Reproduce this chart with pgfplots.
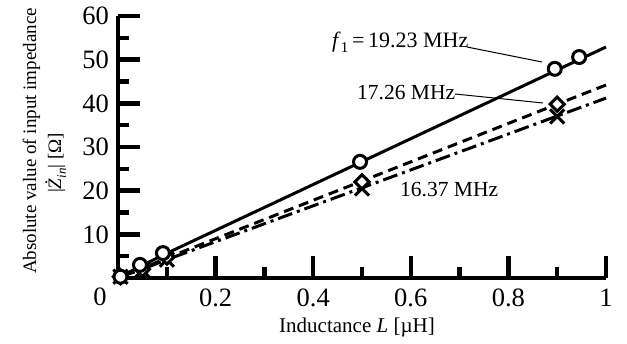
\documentclass[border=0pt]{standalone}
\usepackage{fontspec}
\setmainfont{Liberation Serif}
\usepackage{pgfplots}
\pgfplotsset{compat=1.18}
\begin{document}
\begin{tikzpicture}[x=1pt,y=1pt]
\path[use as bounding box] (0,0) rectangle (627,344);
\begin{axis}[at={(118pt,66pt)}, anchor=south west, scale only axis,
  width=488pt, height=262pt, xmin=0, xmax=1, ymin=0, ymax=60,
  enlargelimits=false, clip=false,
  axis lines=left, axis line style={-, line width=4.5pt},
  xtick={0.2,0.4,0.6,0.8,1}, xticklabels={0.2,0.4,0.6,0.8,1},
  minor xtick={0.1,0.3,0.5,0.7,0.9},
  ytick={10,20,30,40,50,60}, yticklabels={10,20,30,40,50,60},
  minor ytick={5,15,25,35,45,55},
  tick align=inside, major tick length=22pt, minor tick length=11pt,
  every tick/.style={line width=4.5pt, black},
  xticklabel style={font=\fontsize{26.5}{26}\selectfont, inner sep=0pt, anchor=north, yshift=-11pt},
  yticklabel style={font=\fontsize{26.5}{26}\selectfont, inner sep=0pt, anchor=east, xshift=-9pt},
]
% lines
\addplot[black, line width=3pt] coordinates {(0.005,0.3) (0.05,2.9) (0.095,5.4) (1,52.9)};
\addplot[black, line width=3pt, dash pattern=on 10pt off 6pt] coordinates {(0.005,0.3) (0.05,2.2) (0.1,4.6) (1,44.2)};
\addplot[black, line width=3pt, dash pattern=on 15pt off 5pt on 3pt off 5pt] coordinates {(0.005,0.3) (0.05,2.0) (0.1,4.2) (1,41.2)};
% markers
\addplot[only marks, mark=x, mark size=10pt, line width=3pt, black] coordinates {(0.005,0.3) (0.05,1.8) (0.1,4.2) (0.5,20.5) (0.9,37.0)};
\addplot[only marks, mark=square*, mark options={rotate=45, fill=white}, mark size=5pt, line width=3pt, black] coordinates {(0.005,0.3) (0.05,2.0) (0.1,4.8) (0.5,22.0) (0.9,39.8)};
\addplot[only marks, mark=*, mark options={fill=white}, mark size=6.5pt, line width=3pt, black] coordinates {(0.005,0.3) (0.045,3.0) (0.092,5.7) (0.496,26.6) (0.895,47.9) (0.945,50.6)};
\end{axis}
\node[font=\fontsize{26.5}{26}\selectfont, inner sep=0pt] at (100,47) {0};
% annotations
\node[anchor=base west, inner sep=0pt, font=\fontsize{22}{22}\selectfont] at (332,296) {\textit{f}\raisebox{-0.22em}{\fontsize{15}{15}\selectfont 1}\,=\,19.23 MHz};
\draw[line width=1pt] (467,297) -- (542,282);
\node[anchor=base west, inner sep=0pt, font=\fontsize{21.5}{21}\selectfont] at (357,244) {17.26 MHz};
\draw[line width=1pt] (455,250) -- (543,241);
\node[anchor=base west, inner sep=0pt, font=\fontsize{21.5}{21}\selectfont] at (400,147) {16.37 MHz};
% axis labels
\node[anchor=base, inner sep=0pt, font=\fontsize{21}{21}\selectfont] at (357,11) {Inductance \textit{L} [µH]};
\node[anchor=base, rotate=90, inner sep=0pt, font=\fontsize{19}{19}\selectfont] at (36,203) {Absolute value of input impedance};
\node[anchor=base, rotate=90, inner sep=0pt, font=\fontsize{19}{19}\selectfont] at (61,181) {|\textit{Ż}\raisebox{-0.25em}{\fontsize{13}{13}\selectfont\textit{in}}| [Ω]};
\end{tikzpicture}
\end{document}
